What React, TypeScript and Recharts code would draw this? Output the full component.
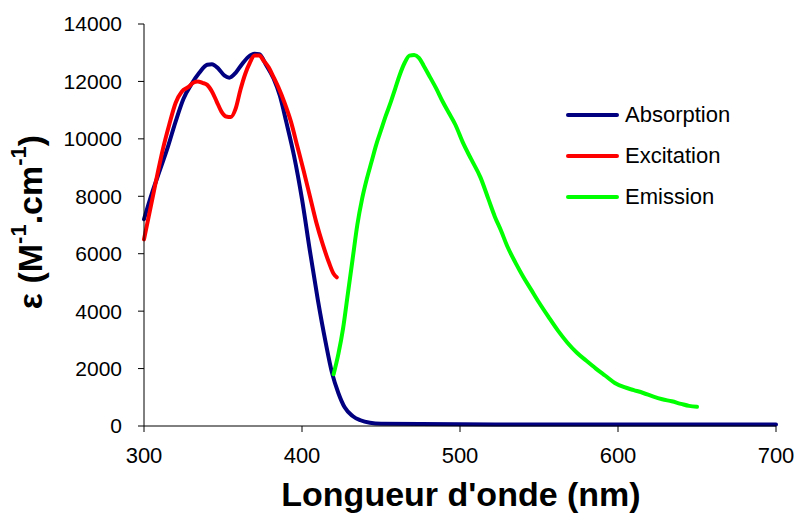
import React from 'react';
import { LineChart, Line, XAxis, YAxis } from 'recharts';

// wavelengths (nm) and molar absorptivity
const absNm = [300, 305, 310, 315, 320, 325, 330, 335, 340, 343, 347, 351, 354, 358, 362, 366, 370, 373, 377, 382, 386, 390, 395, 400, 405, 410, 415, 419, 423, 427, 432, 437, 443, 450, 500, 550, 600, 650, 700];
const absVal = [7200, 8100, 8900, 9700, 10600, 11400, 11900, 12300, 12580, 12600, 12450, 12200, 12130, 12300, 12600, 12850, 12960, 12950, 12600, 12100, 11500, 10600, 9400, 7900, 6100, 4400, 2900, 1850, 1150, 650, 350, 200, 110, 75, 60, 55, 55, 50, 50];

const excNm = [300, 303, 306, 309, 312, 316, 320, 324, 328, 331, 334, 337, 340, 343, 346, 349, 352, 355, 358, 361, 364, 367, 370, 373, 376, 379, 382, 385, 389, 393, 397, 401, 405, 409, 413, 417, 420, 422];
const excVal = [6500, 7300, 8100, 8900, 9650, 10500, 11250, 11650, 11800, 11950, 12000, 11950, 11880, 11650, 11300, 10950, 10780, 10760, 11050, 11700, 12250, 12650, 12900, 12900, 12700, 12480, 12150, 11800, 11250, 10600, 9750, 8900, 8000, 7100, 6350, 5700, 5300, 5180];

const emNm = [420, 423, 426, 429, 432, 435, 438, 441, 444, 447, 450, 453, 456, 459, 462, 465, 468, 471, 474, 477, 481, 485, 489, 493, 497, 502, 507, 513, 518, 522, 526, 530, 535, 540, 545, 550, 556, 562, 568, 574, 580, 586, 592, 598, 604, 610, 616, 622, 628, 634, 640, 645, 650];
const emVal = [1800, 2500, 3400, 4600, 5800, 7000, 7900, 8600, 9200, 9800, 10300, 10800, 11250, 11750, 12250, 12650, 12900, 12920, 12820, 12550, 12150, 11750, 11300, 10900, 10500, 9850, 9300, 8650, 7900, 7300, 6800, 6250, 5700, 5200, 4750, 4300, 3800, 3320, 2900, 2550, 2270, 2000, 1750, 1500, 1350, 1250, 1150, 1030, 930, 860, 770, 700, 670];

const seriesNames = ['Absorption', 'Excitation', 'Emission'];
const seriesColors = ['#000080', '#FF0000', '#00FF00'];

const xTicks = [300, 400, 500, 600, 700];
const yTicks = [0, 2000, 4000, 6000, 8000, 10000, 12000, 14000];

const toPoints = (xs: number[], ys: number[]) => xs.map((nm, i) => ({ nm, v: ys[i] }));
const seriesData = [toPoints(absNm, absVal), toPoints(excNm, excVal), toPoints(emNm, emVal)];

const FONT = '"Liberation Sans", Arial, sans-serif';

// legend drawn as a plain overlay so it doesn't eat into the plot area
const LegendBox = () => (
  <div style={{ position: 'absolute', left: 566, top: 94, fontFamily: FONT, fontSize: 22, color: '#000' }}>
    {seriesNames.map((name, i) => (
      <div key={name} style={{ display: 'flex', alignItems: 'center', height: 41 }}>
        <div style={{ width: 53, height: 4, borderRadius: 2, background: seriesColors[i], marginRight: 6 }} />
        <span>{name}</span>
      </div>
    ))}
  </div>
);

const XTitle = (props: any) => {
  const vb = props.viewBox || {};
  return (
    <text x={vb.x + vb.width / 2 + 1} y={506} textAnchor="middle" fontFamily={FONT} fontWeight="bold" fontSize={34} fill="#000">
      Longueur d'onde (nm)
    </text>
  );
};

const YTitle = () => (
  <text
    x={30}
    y={222}
    transform="rotate(-90 30 222)"
    textAnchor="middle"
    dominantBaseline="central"
    fontFamily={FONT}
    fontWeight="bold"
    fontSize={34}
    fill="#000"
  >
    ε (M<tspan fontSize={22} dy={-12}>-1</tspan>
    <tspan dy={12}>.cm</tspan>
    <tspan fontSize={22} dy={-12}>-1</tspan>
    <tspan dy={12}>)</tspan>
  </text>
);

export default function App() {
  return (
    <div style={{ position: 'absolute', left: 0, top: 0, width: 796, height: 515, background: '#fff' }}>
      <LineChart width={796} height={515} margin={{ top: 24, right: 20, bottom: 29, left: 0 }}>
        <XAxis
          type="number"
          dataKey="nm"
          domain={[300, 700]}
          ticks={xTicks}
          height={60}
          tickSize={6}
          tickMargin={15}
          stroke="#000"
          tick={{ fill: '#000', fontSize: 22, fontFamily: FONT }}
          allowDuplicatedCategory={false}
          label={<XTitle />}
        />
        <YAxis
          type="number"
          domain={[0, 14000]}
          ticks={yTicks}
          width={144}
          tickSize={6}
          tickMargin={16}
          stroke="#000"
          tick={{ fill: '#000', fontSize: 21, fontFamily: FONT }}
          label={<YTitle />}
        />
        {seriesNames.map((name, i) => (
          <Line
            key={name}
            name={name}
            data={seriesData[i]}
            dataKey="v"
            type="monotone"
            stroke={seriesColors[i]}
            strokeWidth={4}
            strokeLinecap="round"
            dot={false}
            isAnimationActive={false}
          />
        ))}
      </LineChart>
      <LegendBox />
    </div>
  );
}
